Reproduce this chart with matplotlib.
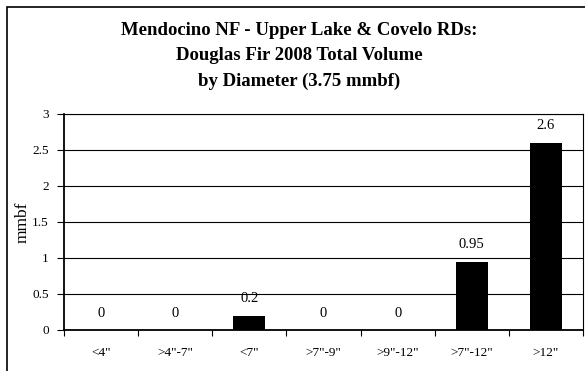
import matplotlib.pyplot as plt
from matplotlib.patches import Rectangle

categories = ['<4"', '>4"-7"', '<7"', '>7"-9"', '>9"-12"', '>7"-12"', '>12"']
volumes = [0, 0, 0.2, 0, 0, 0.95, 2.6]
value_labels = ['0', '0', '0.2', '0', '0', '0.95', '2.6']
title_lines = ['Mendocino NF - Upper Lake & Covelo RDs:',
               'Douglas Fir 2008 Total Volume',
               'by Diameter (3.75 mmbf)']

plt.rcParams['font.family'] = 'Liberation Serif'

W, H = 585, 371
fig = plt.figure(figsize=(W / 100, H / 100), dpi=100)

# outer frame (right/bottom edges run off the picture)
fig.patches.append(Rectangle((7 / W, -0.05), 1.1, 1 - 7 / H + 0.05,
                             transform=fig.transFigure, fill=False,
                             edgecolor='black', linewidth=1.2))

# plot area in pixels: left 64, right 583, top 114, bottom 330
ax = fig.add_axes([64 / W, 1 - 330 / H, (583 - 64) / W, (330 - 114) / H])

x = range(len(categories))
ax.bar(x, volumes, width=0.43, color='black', zorder=3)
for i, (v, lab) in enumerate(zip(volumes, value_labels)):
    ax.annotate(lab, (i, v), xytext=(0, 12.2), textcoords='offset points',
                ha='center', va='center', fontsize=10.5)

ax.set_xlim(-0.5, len(categories) - 0.5)
ax.set_ylim(0, 3)
ax.set_yticks([0, 0.5, 1, 1.5, 2, 2.5, 3])
ax.set_yticklabels(['0', '0.5', '1', '1.5', '2', '2.5', '3'], fontsize=9.5)
ax.yaxis.grid(True, color='black', linewidth=0.8, zorder=0)
ax.set_axisbelow(True)

ax.set_xticks([i + 0.5 for i in range(-1, len(categories))])
ax.set_xticklabels([])
ax.set_xticks(list(x), minor=True)
ax.set_xticklabels(categories, minor=True, fontsize=9.5)
ax.tick_params(axis='x', which='minor', length=0, pad=12)
ax.tick_params(axis='x', which='major', length=4, direction='out')
ax.tick_params(axis='y', length=5, direction='out', pad=6)

for s in ax.spines.values():
    s.set_linewidth(0.8)
ax.spines['left'].set_linewidth(1.3)
ax.spines['bottom'].set_linewidth(1.3)

ax.set_ylabel('mmbf', fontsize=12.5)
ax.yaxis.set_label_coords((31 - 64) / (583 - 64), 0.5)

for k, line in enumerate(title_lines):
    fig.text(299 / W, 1 - (30.5 + 25.5 * k) / H, line, ha='center', va='center',
             fontsize=13.5, fontweight='bold')

fig.savefig('out.png', dpi=100)
